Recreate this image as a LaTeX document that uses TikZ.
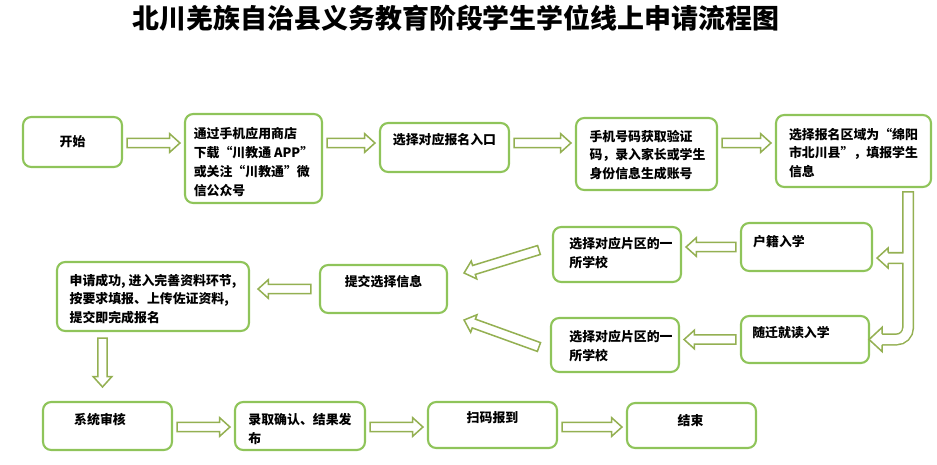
\documentclass[tikz,border=0pt]{standalone}
\usepackage{fontspec}
\setmainfont{Noto Sans CJK SC}
\usetikzlibrary{calc}
\definecolor{boxline}{HTML}{8FC45A}
\definecolor{arrowline}{HTML}{94B052}

\begin{document}
\begin{tikzpicture}[
  x=0.03cm, y=-0.03cm,
  font=\bfseries\fontsize{11}{16}\selectfont,
  box/.style 2 args={draw=boxline, line width=1.8pt, rounded corners=7pt,
    minimum width=#1*0.3mm, minimum height=#2*0.3mm, inner sep=0pt},
  txt/.style={align=left, inner sep=0pt},
  hollow/.style={draw=arrowline, line width=1.3pt, fill=white, line join=miter,
    to path={let \p1=($(\tikztostart)!#1!(\tikztotarget)$),
      \p2=($(\tikztotarget)!#1!(\tikztostart)$),
      \n1={atan2(\y2-\y1,\x2-\x1)}, \n2={veclen(\x2-\x1,\y2-\y1)} in
      ($(\p1)+(\n1+90:1.4mm)$) -- ($(\p1)+(\n1:\n2-3.1mm)+(\n1+90:1.4mm)$)
      -- ($(\p1)+(\n1:\n2-3.1mm)+(\n1+90:2.8mm)$) -- (\p2)
      -- ($(\p1)+(\n1:\n2-3.1mm)+(\n1-90:2.8mm)$)
      -- ($(\p1)+(\n1:\n2-3.1mm)+(\n1-90:1.4mm)$)
      -- ($(\p1)+(\n1-90:1.4mm)$) -- cycle}},
  hollow/.default=1.2mm,
  tube/.style={draw=arrowline, line width=1.3pt, double=white, double distance=2.7mm,
    line cap=rect, rounded corners=3.5mm},
  tip/.style={draw=arrowline, line width=1.3pt, fill=white, line join=miter}
]
  \useasboundingbox (0,0) rectangle (937,464);

  \node[font=\bfseries\fontsize{23}{28}\selectfont] (title) at (456,18)
    {北川羌族自治县义务教育阶段学生学位线上申请流程图};

  % first row
  \node[box={99}{50}] (start) at (72.5,142) {};
  \node[box={137}{89}] (app) at (253.5,158.5) {};
  \node[box={129}{49}] (entry) at (444.5,147.5) {};
  \node[box={141}{72}] (phone) at (646.5,154) {};
  \node[box={155}{72}] (area) at (853.5,151) {};
  \node[txt] (startT) at (start) {开始};
  \node[txt] (appT) at ([shift={(0,3.5)}]app)
    {通过手机应用商店\\下载“川教通 APP”\\或关注“川教通”微\\信公众号};
  \node[txt] (entryT) at ([shift={(0,-7.5)}]entry) {选择对应报名入口};
  \node[txt] (phoneT) at ([shift={(1,1)}]phone)
    {手机号码获取验证\\码，录入家长或学生\\身份信息生成账号};
  \node[txt] (areaT) at ([shift={(0,2)}]area)
    {选择报名区域为“绵阳\\市北川县”，填报学生\\信息};

  \coordinate (row1) at (0,143);
  \draw[hollow] (start.east |- row1) to (app.west |- row1);
  \draw[hollow] (app.east |- row1) to (entry.west |- row1);
  \draw[hollow] (entry.east |- row1) to (phone.west |- row1);
  \draw[hollow] (phone.east |- row1) to (area.west |- row1);

  % two ways of entry
  \node[box={131}{48}] (huji) at (806.5,247) {};
  \node[box={128}{47}] (suiqian) at (805,339.5) {};
  \node[box={128}{55}] (schoolA) at (617,254.5) {};
  \node[box={128}{54}] (schoolB) at (615,345) {};
  \node[box={127}{48}] (submit) at (383.5,289) {};
  \node[box={192}{69}] (apply) at (153,296.5) {};
  \node[txt] (hujiT) at ([shift={(-27.5,-5)}]huji) {户籍入学};
  \node[txt] (suiqianT) at ([shift={(-14,-6.5)}]suiqian) {随迁就读入学};
  \node[txt] (schoolAT) at ([shift={(4,-1.5)}]schoolA) {选择对应片区的一\\所学校};
  \node[txt] (schoolBT) at ([shift={(6,1)}]schoolB) {选择对应片区的一\\所学校};
  \node[txt] (submitT) at ([shift={(0,-7)}]submit) {提交选择信息};
  \node[txt] (applyT) at ([shift={(0,2.5)}]apply)
    {申请成功, 进入完善资料环节,\\按要求填报、上传佐证资料,\\提交即完成报名};

  \coordinate (drop) at ([shift={(-24,9)}]area.south east);
  \draw[tube] (drop) -- (drop |- suiqian.east) -- ([shift={(12,0)}]suiqian.east)
    ([shift={(0,11)}]drop |- huji.east) -- ([shift={(17,11)}]huji.east);
  \filldraw[tip] ([shift={(12,-5.3)}]suiqian.east) -- ++(0,-6.8)
    -- ([shift={(-1,0)}]suiqian.east) -- ([shift={(12,12)}]suiqian.east) -- ++(0,-6.7);
  \filldraw[tip] ([shift={(15,5.7)}]huji.east) -- ++(0,-4.7)
    -- ([shift={(4,11)}]huji.east) -- ([shift={(15,21)}]huji.east) -- ++(0,-4.7);

  \draw[hollow] (huji.west) to (schoolA.east |- huji.west);
  \draw[hollow] (suiqian.west) to (schoolB.east |- suiqian.west);
  \draw[hollow=0mm] ([shift={(-13,-4.5)}]schoolA.west) to ([shift={(16,-16)}]submit.east);
  \draw[hollow=0mm] ([shift={(-11,2)}]schoolB.west) to ([shift={(16,31)}]submit.east);
  \draw[hollow=2.4mm] (submit.west) to (apply.east |- submit.west);

  % last row
  \node[box={129}{48}] (check) at (107.5,426) {};
  \node[box={130}{48}] (admit) at (300,426) {};
  \node[box={129}{46}] (scan) at (492.5,425) {};
  \node[box={129}{45}] (finish) at (691.5,425.5) {};
  \node[txt] (checkT) at ([shift={(-7.5,-6)}]check) {系统审核};
  \node[txt] (admitT) at ([shift={(0,3)}]admit) {录取确认、结果发\\布};
  \node[txt] (scanT) at ([shift={(0,-7)}]scan) {扫码报到};
  \node[txt] (finishT) at ([shift={(-1,-4.5)}]finish) {结束};

  \draw[hollow=0mm] ([shift={(-5,6)}]check.north |- apply.south) to ([shift={(-5,-14)}]check.north);
  \coordinate (row3) at (0,427);
  \draw[hollow] (check.east |- row3) to (admit.west |- row3);
  \draw[hollow] (admit.east |- row3) to (scan.west |- row3);
  \draw[hollow] (scan.east |- row3) to (finish.west |- row3);
\end{tikzpicture}
\end{document}
